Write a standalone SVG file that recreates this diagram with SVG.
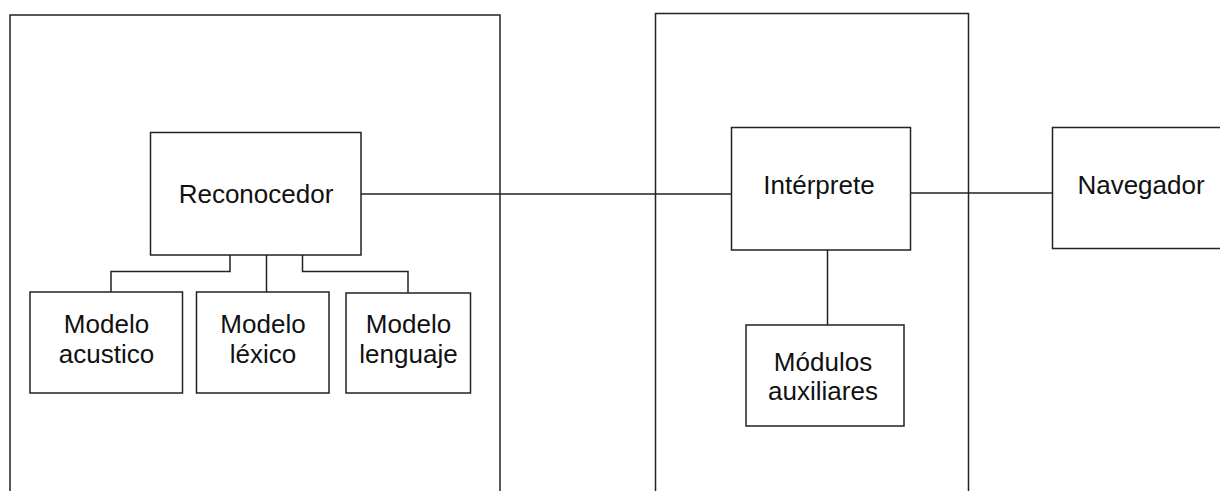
<svg xmlns="http://www.w3.org/2000/svg" width="1220" height="491" viewBox="0 0 1220 491">
<style>
.b{fill:#fff;stroke:#222;stroke-width:1.5}
.c{fill:none;stroke:#222;stroke-width:1.5}
.t{font-family:"Liberation Sans",Arial,sans-serif;font-size:26px;fill:#111;text-anchor:middle}
</style>
<rect width="1220" height="491" fill="#fff"/>
<g id="reconocedor-container"><rect class="b" x="10" y="15" width="490" height="490"/></g>
<g id="interprete-container"><rect class="b" x="655.5" y="13.5" width="313" height="490"/></g>
<g id="connectors">
<path class="c" d="M361 194H731.5"/>
<path class="c" d="M910.5 193H1052.5"/>
<path class="c" d="M230 255V271.5H111V292"/>
<path class="c" d="M266.5 255V292"/>
<path class="c" d="M302.5 255V271.5H408V293"/>
<path class="c" d="M827.5 250V325"/>
</g>
<g id="reconocedor"><rect class="b" x="150.5" y="132.5" width="210.5" height="122.5"/><text class="t" x="256" y="203">Reconocedor</text></g>
<g id="modelo-acustico"><rect class="b" x="30" y="292" width="152.5" height="101"/><text class="t" x="106.5" y="333">Modelo</text><text class="t" x="106.5" y="363">acustico</text></g>
<g id="modelo-lexico"><rect class="b" x="196.5" y="292" width="132.5" height="101"/><text class="t" x="263" y="333">Modelo</text><text class="t" x="263" y="363">léxico</text></g>
<g id="modelo-lenguaje"><rect class="b" x="346" y="293" width="124.5" height="100"/><text class="t" x="408.5" y="333">Modelo</text><text class="t" x="408.5" y="363">lenguaje</text></g>
<g id="interprete"><rect class="b" x="731.5" y="127.5" width="179" height="122.5"/><text class="t" x="819" y="194">Intérprete</text></g>
<g id="modulos-auxiliares"><rect class="b" x="746" y="325" width="158" height="101"/><text class="t" x="823" y="371">Módulos</text><text class="t" x="823" y="400">auxiliares</text></g>
<g id="navegador"><rect class="b" x="1052.5" y="127.5" width="180" height="121"/><text class="t" x="1141" y="194">Navegador</text></g>
</svg>
